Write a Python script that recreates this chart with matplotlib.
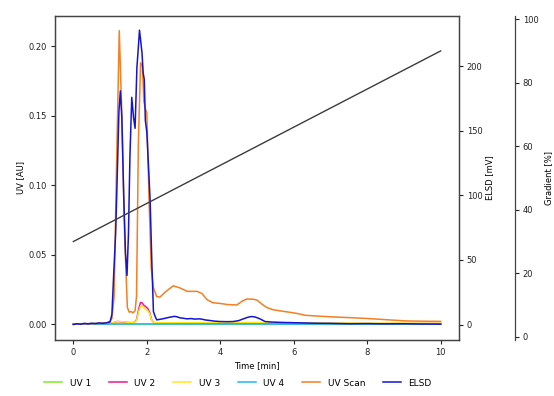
import matplotlib
matplotlib.use("Agg")
import matplotlib.pyplot as plt

# ---- data ----
uvscan_t = [0, 0.5, 0.9, 1.0, 1.05, 1.11, 1.18, 1.25, 1.32, 1.40, 1.47, 1.52, 1.57, 1.62, 1.68,
            1.72, 1.77, 1.83, 1.88, 1.92, 1.96, 2.0, 2.06, 2.12, 2.18, 2.27, 2.36, 2.5, 2.72, 2.9,
            3.1, 3.37, 3.5, 3.64, 3.8, 4.0, 4.2, 4.45, 4.6, 4.72, 4.9, 5.0, 5.15, 5.27, 5.45,
            5.62, 5.8, 5.98, 6.17, 6.3, 6.6, 7.0, 7.5, 8.0, 8.34, 8.7, 9.07, 9.5, 10]
uvscan_v = [0, 0.0003, 0.0008, 0.002, 0.004, 0.02, 0.12, 0.211, 0.15, 0.06, 0.012, 0.0085, 0.009,
            0.008, 0.0095, 0.02, 0.13, 0.188, 0.185, 0.16, 0.155, 0.152, 0.09, 0.04, 0.026,
            0.0197, 0.0194, 0.023, 0.0275, 0.026, 0.0235, 0.0235, 0.022, 0.0175, 0.0153, 0.0148,
            0.014, 0.0137, 0.0165, 0.018, 0.0178, 0.0172, 0.014, 0.0118, 0.0102, 0.0095, 0.0088,
            0.0081, 0.0072, 0.0063, 0.0058, 0.0052, 0.0046, 0.004, 0.0034, 0.0028, 0.0022, 0.002,
            0.0019]

elsd_t = [0, 0.1, 0.2, 0.3, 0.4, 0.5, 0.6, 0.7, 0.8, 0.9, 1.0, 1.05, 1.1, 1.15, 1.19, 1.24, 1.28,
          1.32, 1.37, 1.42, 1.46, 1.5, 1.54, 1.59, 1.64, 1.68, 1.73, 1.77, 1.8, 1.84, 1.87, 1.9,
          1.93, 1.96, 2.0, 2.05, 2.09, 2.14, 2.18, 2.23, 2.27, 2.35, 2.45, 2.55, 2.65, 2.75, 2.82,
          2.9, 3.0, 3.09, 3.2, 3.3, 3.45, 3.6, 3.72, 3.85, 4.0, 4.2, 4.35, 4.5, 4.63, 4.75, 4.85,
          4.95, 5.08, 5.22, 5.4, 5.7, 6.17, 6.6, 7.0, 7.5, 8.0, 8.5, 9.0, 9.5, 10]
elsd_v = [0, 0.6, 0.3, 0.9, 0.5, 1.0, 0.7, 1.2, 0.9, 1.3, 2, 8, 40, 70, 110, 165, 181, 160, 100,
          55, 38, 70, 130, 176, 160, 152, 199, 215, 228, 218, 210, 195, 190, 158, 149, 120, 96,
          45, 10, 6, 3.6, 4, 4.5, 5.2, 5.8, 6.3, 6.0, 5.2, 4.8, 4.4, 4.6, 4.2, 4.4, 3.5, 3.1,
          2.6, 2.3, 2.2, 2.3, 3.0, 4.4, 5.6, 6.2, 5.8, 4.4, 2.3, 1.9, 1.6, 1.3, 1.0, 0.9, 0.6,
          0.7, 0.5, 0.6, 0.4, 0.3]

uvsmall_t = [0, 1.0, 1.1, 1.2, 1.35, 1.5, 1.65, 1.72, 1.78, 1.83, 1.87, 1.92, 1.97, 2.03, 2.08,
             2.13, 2.2, 2.5, 3.0, 4.0, 5.0, 6.0, 8.0, 10]
uv2_v = [0, 0.0003, 0.001, 0.0018, 0.0015, 0.001, 0.001, 0.003, 0.011, 0.0155, 0.0153, 0.0135,
         0.0125, 0.011, 0.008, 0.003, 0.0008, 0.0006, 0.0005, 0.0005, 0.0005, 0.0004, 0.0003,
         0.0003]
uv3_v = [0, 0.0004, 0.0012, 0.0018, 0.0016, 0.0012, 0.0011, 0.0025, 0.009, 0.0128, 0.013, 0.0118,
         0.0105, 0.0095, 0.0072, 0.0028, 0.001, 0.0009, 0.0009, 0.0011, 0.0011, 0.0008, 0.0006,
         0.0005]
uvflat_t = [0, 10]
uv1_v = [0, 0]
uv4_v = [0, 0]

grad_t = [0, 10]
grad_v = [30, 90]

labels = ["UV 1", "UV 2", "UV 3", "UV 4", "UV Scan", "ELSD"]
colors = ["#86E62A", "#F0169A", "#FFE81A", "#1EB8F0", "#F57F22", "#1414D2"]

plt.rcParams["font.family"] = ["DejaVu Sans"]
fs = 6.0

fig = plt.figure(figsize=(5.54, 3.96), dpi=100)
ax = fig.add_axes([55 / 554, 56 / 396, 404 / 554, 324 / 396])
ax2 = ax.twinx()
ax3 = ax.twinx()

lw = 1.1
h1, = ax.plot(uvflat_t, uv1_v, color=colors[0], lw=lw)
h2, = ax.plot(uvsmall_t, uv2_v, color=colors[1], lw=lw)
h3, = ax.plot(uvsmall_t, uv3_v, color=colors[2], lw=lw)
h4, = ax.plot(uvflat_t, uv4_v, color=colors[3], lw=lw)
h5, = ax.plot(uvscan_t, uvscan_v, color=colors[4], lw=lw)
h6, = ax2.plot(elsd_t, elsd_v, color=colors[5], lw=lw)
ax3.plot(grad_t, grad_v, color="#3c3c3c", lw=1.0)

ax.set_xlim(-0.5, 10.5)
ax.set_ylim(-0.0115, 0.2216)
ax2.set_ylim(-12.0, 239.0)
ax3.set_ylim(-1, 101)

ax.set_xticks([0, 2, 4, 6, 8, 10])
ax.set_yticks([0, 0.05, 0.10, 0.15, 0.20])
ax.set_yticklabels(["0.00", "0.05", "0.10", "0.15", "0.20"])
ax2.set_yticks([0, 50, 100, 150, 200])
ax3.set_yticks([0, 20, 40, 60, 80, 100])

ax3.spines["right"].set_position(("axes", (515 - 55) / 404))
for s in ["top", "left", "bottom"]:
    ax3.spines[s].set_visible(False)

for a in (ax, ax2, ax3):
    for s in a.spines.values():
        s.set_color("#444444")
        s.set_linewidth(0.9)
    a.tick_params(colors="#222222", length=3, width=0.8, labelsize=fs, pad=2.5)

ax.set_xlabel("Time [min]", fontsize=fs, labelpad=3)
ax.set_ylabel("UV [AU]", fontsize=fs, labelpad=3)
ax2.set_ylabel("ELSD [mV]", fontsize=fs, labelpad=2)
ax3.set_ylabel("Gradient [%]", fontsize=fs, labelpad=4)

fig.legend([h1, h2, h3, h4, h5, h6], labels, loc="center",
           bbox_to_anchor=(238 / 554, 1 - 383 / 396), ncol=6, frameon=False,
           fontsize=6.5, handlelength=2.0, columnspacing=2.0)

fig.savefig("out.png", dpi=100)
